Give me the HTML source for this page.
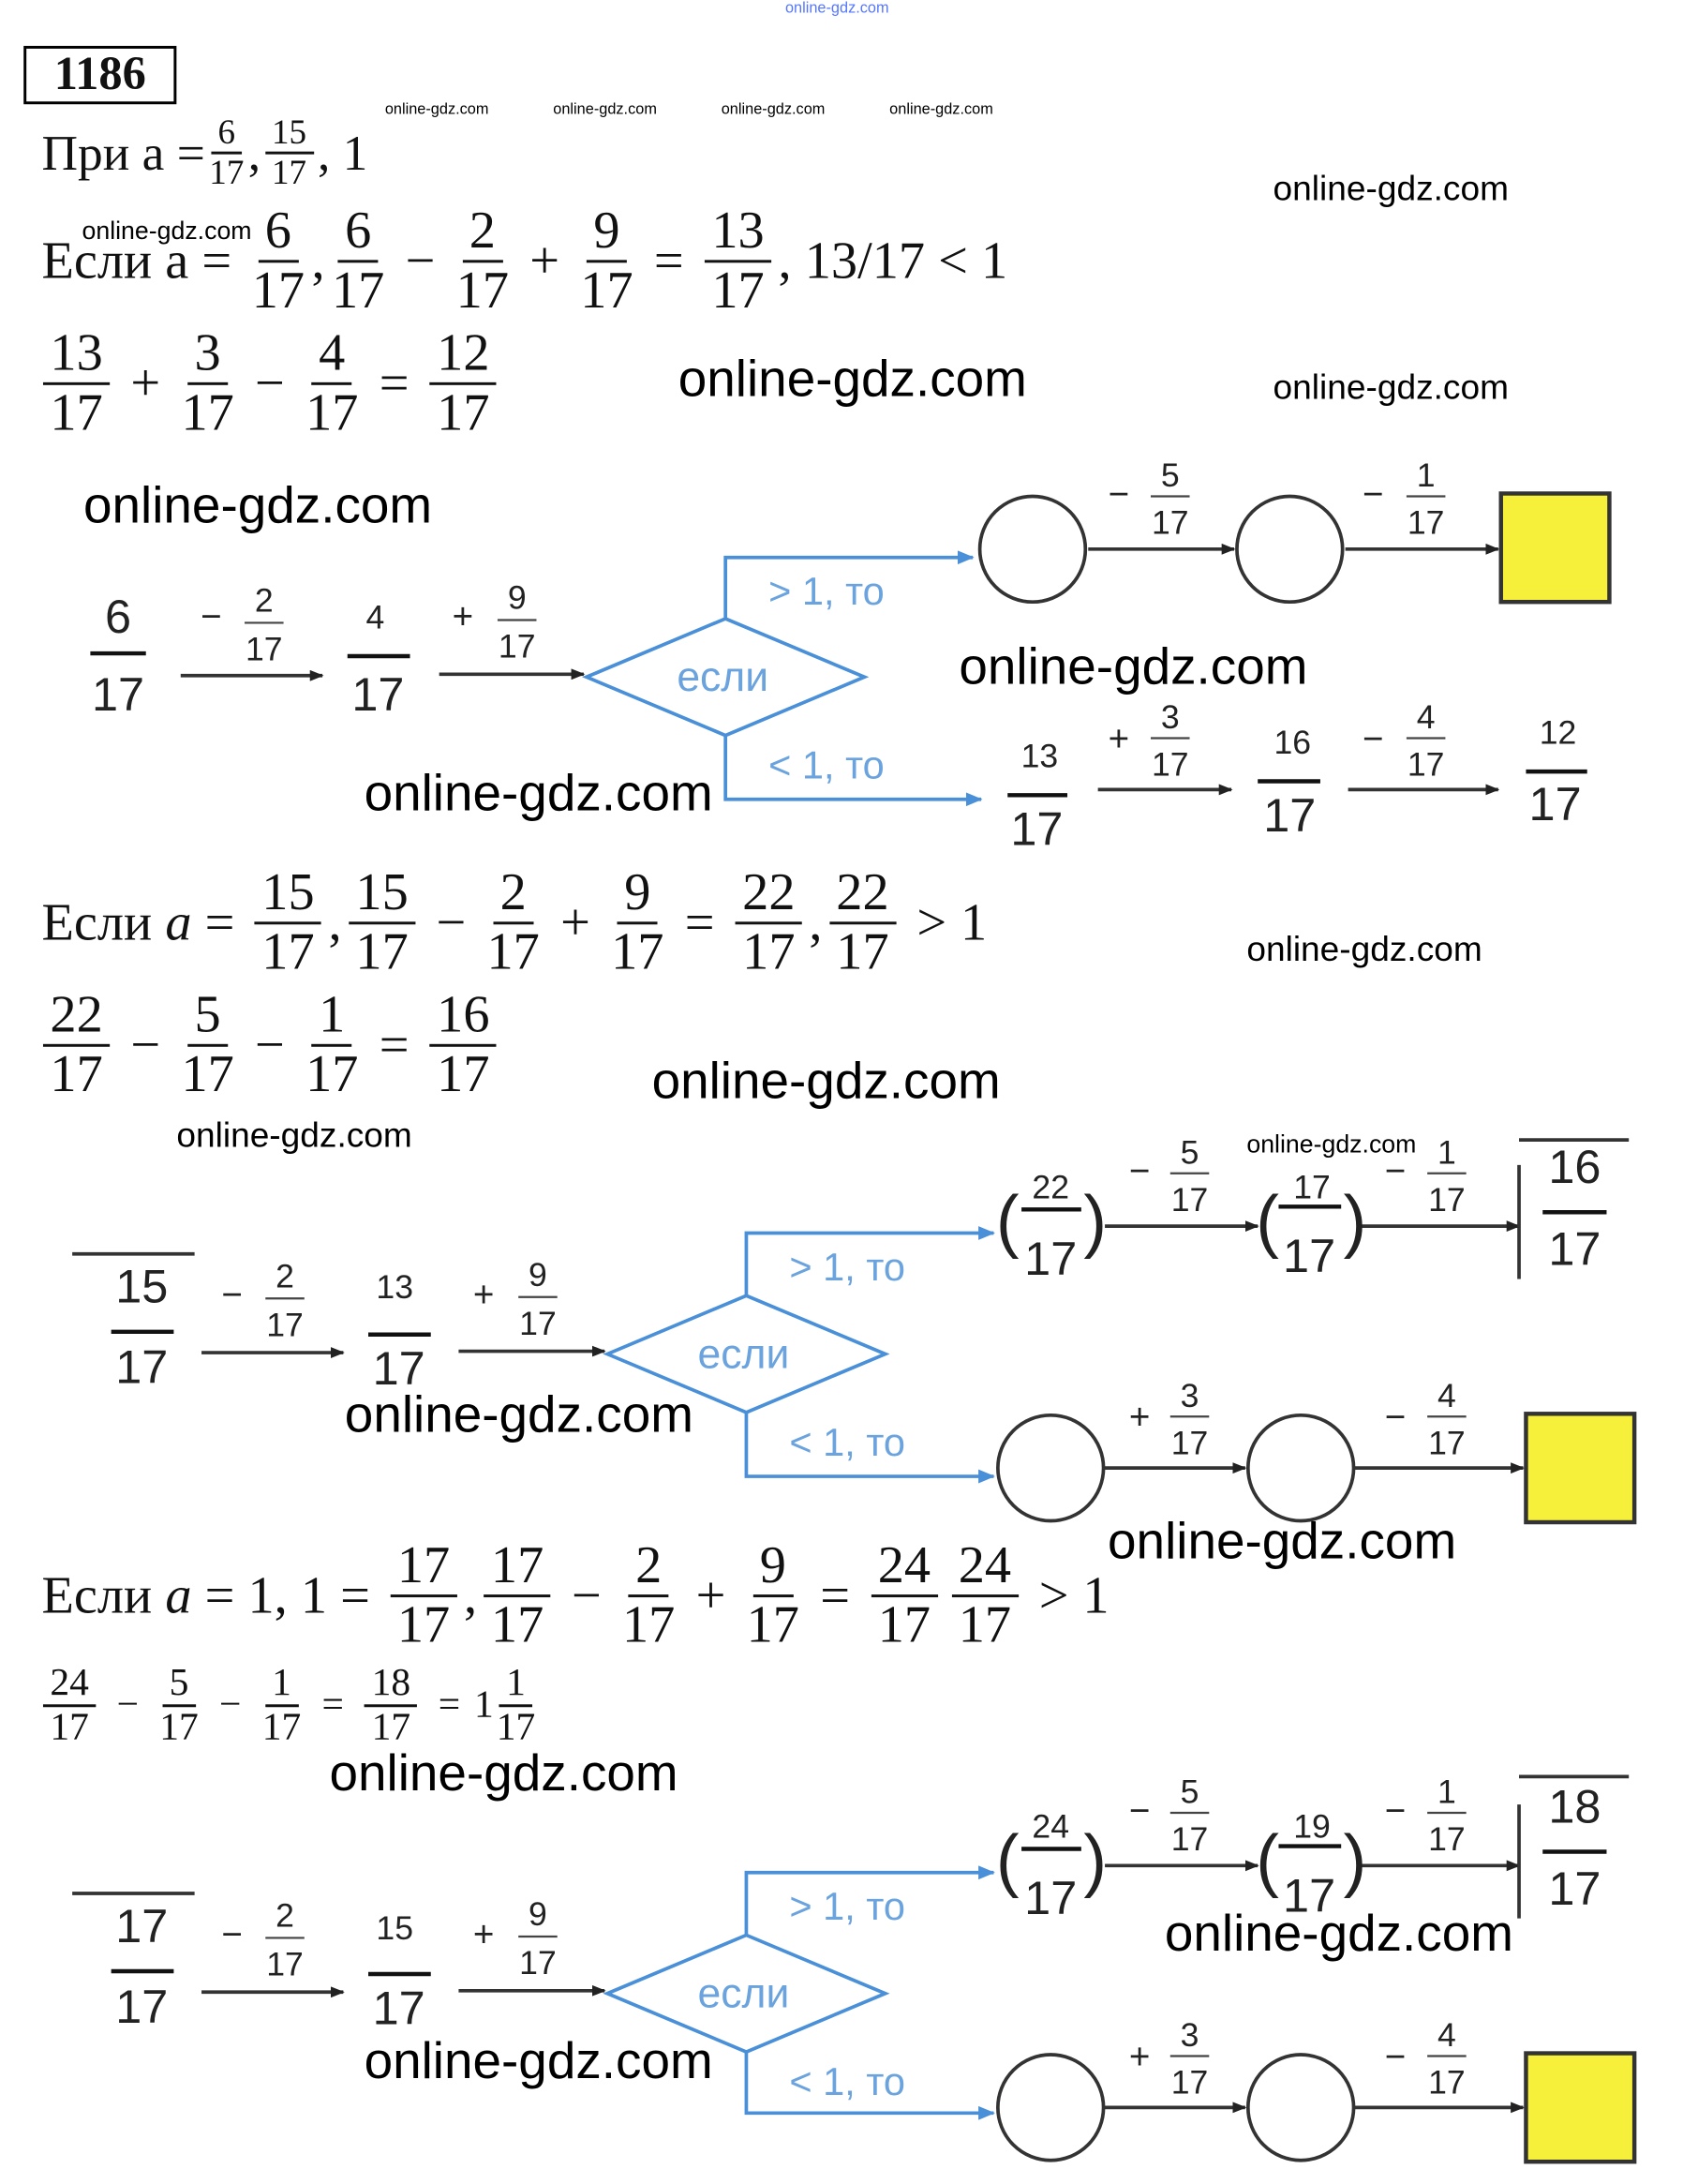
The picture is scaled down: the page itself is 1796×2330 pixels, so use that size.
<!DOCTYPE html>
<html><head><meta charset="utf-8"><style>
body{margin:0;background:#fff;}
#w{position:absolute;left:0;top:0;width:1796px;height:2330px;overflow:hidden;background:#fff}
#s{position:absolute;left:0;top:0;width:1211px;height:1571px;transform:scale(1.4831);transform-origin:0 0;font-family:"Liberation Serif","DejaVu Serif",serif;color:#111}
.a{position:absolute;white-space:nowrap}
.wm{position:absolute;font-family:"Liberation Sans","DejaVu Sans",sans-serif;color:#000;white-space:nowrap}
.row{position:absolute;display:flex;align-items:center;font-size:38px;white-space:nowrap}
.f{display:inline-flex;flex-direction:column;align-items:center;margin:0 5px;line-height:1.08}
.f span:first-child{border-bottom:2px solid #111;padding:0 5px}
.op{margin:0 10px}
svg{position:absolute;left:0;top:0}
</style></head><body><div id="w"><div id="s">
<div class="wm" style="left:565px;top:0;font-size:11px;color:#57f">online-gdz.com</div>
<div class="a" style="left:17px;top:33px;width:106px;height:38px;border:2px solid #000;font-weight:bold;font-size:34px;line-height:38px;text-align:center">1186</div>
<div class="wm" style="left:277px;top:73px;font-size:11px">online-gdz.com</div>
<div class="wm" style="left:398px;top:73px;font-size:11px">online-gdz.com</div>
<div class="wm" style="left:519px;top:73px;font-size:11px">online-gdz.com</div>
<div class="wm" style="left:640px;top:73px;font-size:11px">online-gdz.com</div>

<div class="row" style="left:30px;top:82px;font-size:36px">При a =<span class="f" style="font-size:25px;margin:0 3px"><span>6</span><span>17</span></span>,<span class="f" style="font-size:25px;margin:0 3px"><span>15</span><span>17</span></span>, 1</div>
<div class="wm" style="left:59px;top:156px;font-size:18px">online-gdz.com</div>
<div class="wm" style="left:916px;top:122px;font-size:25px">online-gdz.com</div>
<div class="row" style="left:30px;top:146px">Если a =&nbsp;<span class="f"><span>6</span><span>17</span></span>,<span class="f"><span>6</span><span>17</span></span><span class="op">−</span><span class="f"><span>2</span><span>17</span></span><span class="op">+</span><span class="f"><span>9</span><span>17</span></span><span class="op">=</span><span class="f"><span>13</span><span>17</span></span>, 13/17 &lt; 1</div>
<div class="row" style="left:26px;top:234px"><span class="f"><span>13</span><span>17</span></span><span class="op">+</span><span class="f"><span>3</span><span>17</span></span><span class="op">−</span><span class="f"><span>4</span><span>17</span></span><span class="op">=</span><span class="f"><span>12</span><span>17</span></span></div>
<div class="wm" style="left:916px;top:265px;font-size:25px">online-gdz.com</div>

<div class="row" style="left:30px;top:622px">Если&nbsp;<i>a</i>&nbsp;=&nbsp;<span class="f"><span>15</span><span>17</span></span>,<span class="f"><span>15</span><span>17</span></span><span class="op">−</span><span class="f"><span>2</span><span>17</span></span><span class="op">+</span><span class="f"><span>9</span><span>17</span></span><span class="op">=</span><span class="f"><span>22</span><span>17</span></span>,<span class="f"><span>22</span><span>17</span></span><span class="op">&gt;</span>1</div>
<div class="row" style="left:26px;top:710px"><span class="f"><span>22</span><span>17</span></span><span class="op">−</span><span class="f"><span>5</span><span>17</span></span><span class="op">−</span><span class="f"><span>1</span><span>17</span></span><span class="op">=</span><span class="f"><span>16</span><span>17</span></span></div>
<div class="wm" style="left:897px;top:669px;font-size:25px">online-gdz.com</div>
<div class="wm" style="left:127px;top:803px;font-size:25px">online-gdz.com</div>
<div class="wm" style="left:897px;top:813px;font-size:18px">online-gdz.com</div>

<div class="row" style="left:30px;top:1106px">Если&nbsp;<i>a</i>&nbsp;= 1, 1 =&nbsp;<span class="f"><span>17</span><span>17</span></span>,<span class="f"><span>17</span><span>17</span></span><span class="op">−</span><span class="f"><span>2</span><span>17</span></span><span class="op">+</span><span class="f"><span>9</span><span>17</span></span><span class="op">=</span><span class="f"><span>24</span><span>17</span></span><span class="f"><span>24</span><span>17</span></span><span class="op">&gt;</span>1</div>
<div class="row" style="left:26px;top:1196px;font-size:28px"><span class="f"><span>24</span><span>17</span></span><span class="op">−</span><span class="f"><span>5</span><span>17</span></span><span class="op">−</span><span class="f"><span>1</span><span>17</span></span><span class="op">=</span><span class="f"><span>18</span><span>17</span></span><span class="op">=</span>1<span class="f" style="margin-left:2px"><span>1</span><span>17</span></span></div>

<svg width="1211" height="1571" viewBox="0 0 1211 1571" font-family="Liberation Sans, DejaVu Sans, sans-serif">
<defs>
<marker id="k" markerWidth="10" markerHeight="8" refX="9" refY="4" orient="auto" markerUnits="userSpaceOnUse"><path d="M0,0 L10,4 L0,8z" fill="#222"/></marker>
<marker id="b" markerWidth="12" markerHeight="10" refX="11" refY="5" orient="auto" markerUnits="userSpaceOnUse"><path d="M0,0 L12,5 L0,10z" fill="#4a90d9"/></marker>
</defs>
<g stroke="#333" stroke-width="2.5" fill="none">
<path d="M130,486 H232" marker-end="url(#k)"/><path d="M316,485 H420" marker-end="url(#k)"/>
<path d="M783,395 H888" marker-end="url(#k)"/><path d="M968,395 H1078" marker-end="url(#k)"/>
<path d="M790,568 H886" marker-end="url(#k)"/><path d="M970,568 H1078" marker-end="url(#k)"/>
<circle cx="743" cy="395" r="38"/><circle cx="928" cy="395" r="38"/>
<path d="M145,973 H247" marker-end="url(#k)"/><path d="M330,972 H435" marker-end="url(#k)"/>
<path d="M795,882 H905" marker-end="url(#k)"/><path d="M980,882 H1093" marker-end="url(#k)"/>
<path d="M794,1056 H896" marker-end="url(#k)"/><path d="M974,1056 H1096" marker-end="url(#k)"/>
<circle cx="756" cy="1056" r="38"/><circle cx="936" cy="1056" r="38"/>
<path d="M1093,820 H1172 M1093,838 V920" />
<path d="M145,1433 H247" marker-end="url(#k)"/><path d="M330,1432 H435" marker-end="url(#k)"/>
<path d="M795,1342 H905" marker-end="url(#k)"/><path d="M980,1342 H1093" marker-end="url(#k)"/>
<path d="M794,1516 H896" marker-end="url(#k)"/><path d="M974,1516 H1096" marker-end="url(#k)"/>
<circle cx="756" cy="1516" r="38"/><circle cx="936" cy="1516" r="38"/>
<path d="M1093,1278 H1172 M1093,1298 V1380" />
<path d="M52,902 H140 M52,1362 H140"/>
</g>
<g fill="#f7f03a" stroke="#333" stroke-width="3">
<rect x="1080" y="355" width="78" height="78"/><rect x="1098" y="1017" width="78" height="78"/><rect x="1098" y="1477" width="78" height="78"/>
</g>
<g stroke="#4a90d9" stroke-width="2.5" fill="none">
<path d="M422,487 L522,445 L622,487 L522,529z"/>
<path d="M522,445 V401 H700" marker-end="url(#b)"/><path d="M522,529 V575 H706" marker-end="url(#b)"/>
<path d="M437,974 L537,932 L637,974 L537,1016z"/>
<path d="M537,932 V887 H715" marker-end="url(#b)"/><path d="M537,1016 V1062 H715" marker-end="url(#b)"/>
<path d="M437,1434 L537,1392 L637,1434 L537,1476z"/>
<path d="M537,1392 V1347 H715" marker-end="url(#b)"/><path d="M537,1476 V1520 H715" marker-end="url(#b)"/>
</g>
<g fill="#6aa3dd" font-size="30" text-anchor="middle">
<text x="520" y="497">если</text><text x="535" y="984">если</text><text x="535" y="1444">если</text>
</g>
<g fill="#6aa3dd" font-size="28">
<text x="553" y="435">&gt; 1, то</text><text x="553" y="560">&lt; 1, то</text>
<text x="568" y="921">&gt; 1, то</text><text x="568" y="1047">&lt; 1, то</text>
<text x="568" y="1381">&gt; 1, то</text><text x="568" y="1507">&lt; 1, то</text>
</g>
<g fill="#222" text-anchor="middle">
<g font-size="34">
<text x="85" y="455">6</text><text x="85" y="511">17</text>
<text x="272" y="511">17</text><text x="746" y="608">17</text><text x="928" y="598">17</text><text x="1119" y="590">17</text>
<text x="102" y="937">15</text><text x="102" y="995">17</text><text x="287" y="996">17</text>
<text x="756" y="917">17</text><text x="942" y="915">17</text><text x="1133" y="851">16</text><text x="1133" y="910">17</text>
<text x="102" y="1397">17</text><text x="102" y="1455">17</text><text x="287" y="1456">17</text>
<text x="756" y="1377">17</text><text x="942" y="1375">17</text><text x="1133" y="1311">18</text><text x="1133" y="1370">17</text>
</g>
<g font-size="24">
<text x="270" y="452">4</text><text x="748" y="552">13</text><text x="930" y="542">16</text><text x="1121" y="535">12</text>
<text x="284" y="934">13</text><text x="756" y="862">22</text><text x="944" y="862">17</text>
<text x="284" y="1395">15</text><text x="756" y="1322">24</text><text x="944" y="1322">19</text>
</g>
<g font-size="24">
<text x="190" y="440">2</text><text x="190" y="475">17</text>
<text x="372" y="438">9</text><text x="372" y="473">17</text>
<text x="842" y="350">5</text><text x="842" y="384">17</text>
<text x="1026" y="350">1</text><text x="1026" y="384">17</text>
<text x="842" y="524">3</text><text x="842" y="558">17</text>
<text x="1026" y="524">4</text><text x="1026" y="558">17</text>
<text x="205" y="926">2</text><text x="205" y="961">17</text>
<text x="387" y="925">9</text><text x="387" y="960">17</text>
<text x="856" y="837">5</text><text x="856" y="871">17</text>
<text x="1041" y="837">1</text><text x="1041" y="871">17</text>
<text x="856" y="1012">3</text><text x="856" y="1046">17</text>
<text x="1041" y="1012">4</text><text x="1041" y="1046">17</text>
<text x="205" y="1386">2</text><text x="205" y="1421">17</text>
<text x="387" y="1385">9</text><text x="387" y="1420">17</text>
<text x="856" y="1297">5</text><text x="856" y="1331">17</text>
<text x="1041" y="1297">1</text><text x="1041" y="1331">17</text>
<text x="856" y="1472">3</text><text x="856" y="1506">17</text>
<text x="1041" y="1472">4</text><text x="1041" y="1506">17</text>
</g>
<g font-size="26">
<text x="152" y="452">−</text><text x="333" y="452">+</text><text x="805" y="364">−</text><text x="988" y="364">−</text>
<text x="805" y="540">+</text><text x="988" y="540">−</text>
<text x="167" y="940">−</text><text x="348" y="940">+</text><text x="820" y="851">−</text><text x="1004" y="851">−</text>
<text x="820" y="1028">+</text><text x="1004" y="1028">−</text>
<text x="167" y="1400">−</text><text x="348" y="1400">+</text><text x="820" y="1311">−</text><text x="1004" y="1311">−</text>
<text x="820" y="1488">+</text><text x="1004" y="1488">−</text>
<text x="725" y="895" font-size="50">(</text><text x="788" y="895" font-size="50">)</text>
<text x="912" y="895" font-size="50">(</text><text x="975" y="895" font-size="50">)</text>
<text x="725" y="1355" font-size="50">(</text><text x="788" y="1355" font-size="50">)</text>
<text x="912" y="1355" font-size="50">(</text><text x="975" y="1355" font-size="50">)</text>
</g>
</g>
<g stroke="#111" stroke-width="3">
<path d="M65,470 H105 M250,472 H295 M725,572 H768 M905,562 H950 M1098,555 H1142"/>
<path d="M80,958 H125 M265,960 H310 M735,870 H778 M920,868 H965 M1110,872 H1156"/>
<path d="M80,1418 H125 M265,1420 H310 M735,1330 H778 M920,1328 H965 M1110,1332 H1156"/>
</g>
<g stroke="#444" stroke-width="1.5">
<path d="M176,448 H204 M358,446 H386 M828,357 H856 M1012,357 H1040 M828,531 H856 M1012,531 H1040"/>
<path d="M191,934 H219 M373,933 H401 M842,844 H870 M1027,844 H1055 M842,1019 H870 M1027,1019 H1055"/>
<path d="M191,1394 H219 M373,1393 H401 M842,1304 H870 M1027,1304 H1055 M842,1479 H870 M1027,1479 H1055"/>
</g>
</svg>

<div class="wm" style="left:488px;top:252px;font-size:37px">online-gdz.com</div>
<div class="wm" style="left:60px;top:343px;font-size:37px">online-gdz.com</div>
<div class="wm" style="left:690px;top:459px;font-size:37px">online-gdz.com</div>
<div class="wm" style="left:262px;top:550px;font-size:37px">online-gdz.com</div>
<div class="wm" style="left:469px;top:757px;font-size:37px">online-gdz.com</div>
<div class="wm" style="left:248px;top:997px;font-size:37px">online-gdz.com</div>
<div class="wm" style="left:797px;top:1088px;font-size:37px">online-gdz.com</div>
<div class="wm" style="left:237px;top:1255px;font-size:37px">online-gdz.com</div>
<div class="wm" style="left:838px;top:1370px;font-size:37px">online-gdz.com</div>
<div class="wm" style="left:262px;top:1462px;font-size:37px">online-gdz.com</div>
</div></div></body></html>
